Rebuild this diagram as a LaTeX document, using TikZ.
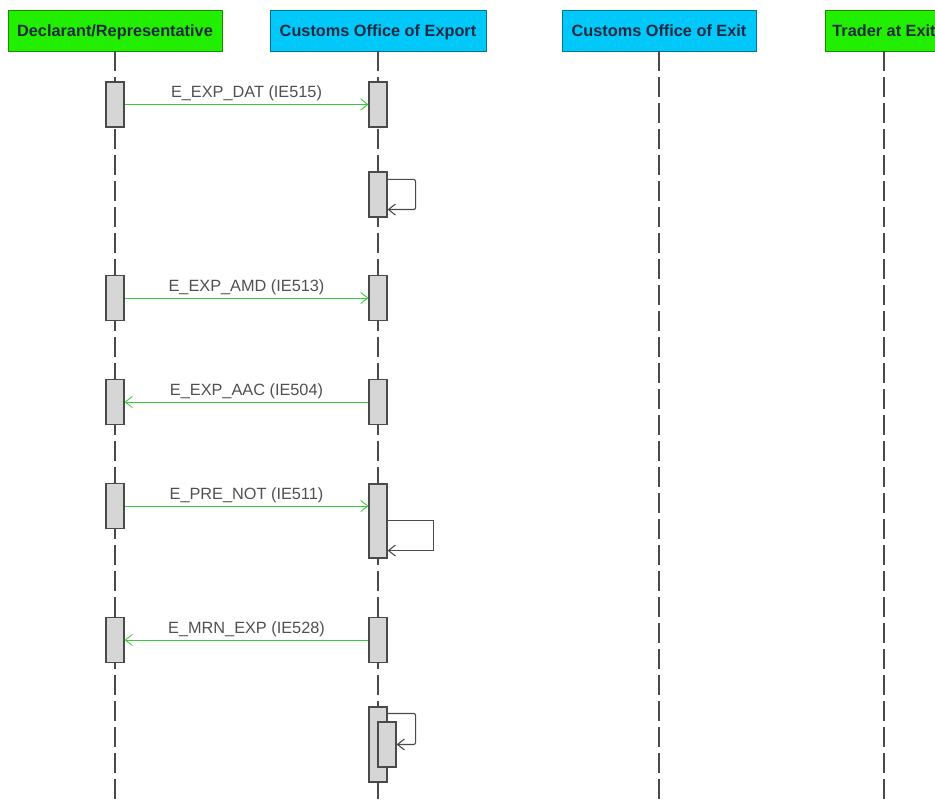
\documentclass[tikz,border=0pt]{standalone}
\usepackage{fontspec}
\setmainfont{Liberation Sans}
\usepackage{tikz}
\usetikzlibrary{arrows.meta,positioning}
\definecolor{hdgreen}{HTML}{22EE00}
\definecolor{hdblue}{HTML}{00C8F8}
\definecolor{hdtext}{HTML}{1E2A44}
\definecolor{msgc}{HTML}{3CC83C}
\definecolor{lifec}{HTML}{4A4A4A}
\definecolor{actbg}{HTML}{D6D6D6}
\definecolor{labc}{HTML}{505050}
\tikzset{
  hd/.style={draw=#1!60!black,thick,minimum height=41pt,font=\fontsize{16.3}{18}\selectfont\bfseries,text=hdtext,inner sep=1pt,text height=11.5pt,text depth=0pt},
  life/.style={lifec,line width=1.5pt,dash pattern=on 20pt off 6pt},
  act/.style={draw=lifec,line width=1.1pt,fill=actbg,minimum width=18pt,minimum height=45pt,inner sep=0pt},
  msg/.style={-{Straight Barb[length=7pt,width=11pt]},msgc,line width=0.9pt},
  self/.style={-{Straight Barb[length=7pt,width=11pt]},lifec,line width=1.1pt,rounded corners=2pt},
  lab/.style={font=\fontsize{16.3}{18}\selectfont,text=labc,above,inner sep=3pt}
}
\begin{document}
\begin{tikzpicture}[x=1pt,y=-1pt]
\useasboundingbox (0,0) rectangle (935,802);
\clip (0,0) rectangle (935,802);
% headers
\node[hd=hdgreen,fill=hdgreen,minimum width=214pt] (decl) at (115,30.5) {Declarant/Representative};
\node[hd=hdblue,fill=hdblue,minimum width=216pt] (exp) at (378,30.5) {Customs Office of Export};
\node[hd=hdblue,fill=hdblue,minimum width=194pt] (exit) at (659,30.5) {Customs Office of Exit};
\node[hd=hdgreen,fill=hdgreen,minimum width=118pt] (trad) at (884,30.5) {Trader at Exit};
% lifelines
\coordinate (declend) at (115,800);
\coordinate (expend) at (378,800);
\coordinate (exitend) at (659,800);
\coordinate (tradend) at (884,800);
\draw[life] (decl.south) -- (declend);
\draw[life] (exp.south) -- (expend);
\draw[life] (exit.south) -- (exitend);
\draw[life] (trad.south) -- (tradend);
% activations
\node[act] (d1) at (115,104.5) {};
\node[act] (e1) at (378,104.5) {};
\node[act] (e2) at (378,194.5) {};
\node[act] (d3) at (115,298) {};
\node[act] (e3) at (378,298) {};
\node[act] (d4) at (115,402) {};
\node[act] (e4) at (378,402) {};
\node[act] (d5) at (115,506) {};
\node[act,minimum height=74pt] (e5) at (378,521) {};
\node[act] (d6) at (115,640) {};
\node[act] (e6) at (378,640) {};
\node[act,minimum height=75pt] (e7) at (378,744.5) {};
\node[act] (e8) at (387,744.5) {};
% messages
\draw[msg] (d1) -- node[lab]{E\_EXP\_DAT (IE515)} (e1);
\draw[msg] (d3) -- node[lab]{E\_EXP\_AMD (IE513)} (e3);
\draw[msg] (e4) -- node[lab]{E\_EXP\_AAC (IE504)} (d4);
\draw[msg] (d5.east) -- node[lab]{E\_PRE\_NOT (IE511)} (d5.east -| e5.west);
\draw[msg] (e6) -- node[lab]{E\_MRN\_EXP (IE528)} (d6);
% self calls
\draw[self] ([yshift=-8pt]e2.north east) -- ++(28,0) |- ([yshift=8pt]e2.south east);
\draw[self,rounded corners=0pt] ([yshift=-37pt]e5.north east) -- ++(46,0) |- ([yshift=8pt]e5.south east);
\draw[self] ([yshift=-7pt]e7.north east) -- ++(28,0) |- (e8.east);
\end{tikzpicture}
\end{document}
